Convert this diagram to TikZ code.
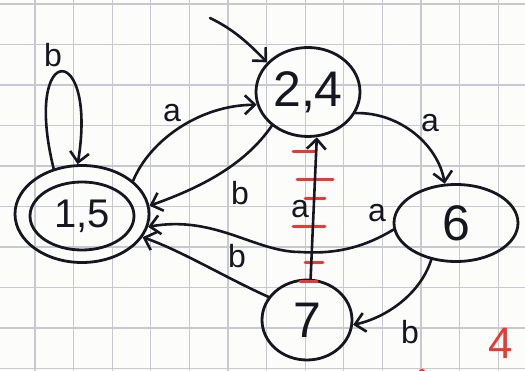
\documentclass[tikz,border=0pt]{standalone}
\usepackage{fontspec}
\setmainfont{Liberation Sans}
\usetikzlibrary{shapes.geometric,arrows.meta}
\definecolor{paper}{RGB}{252,252,250}
\definecolor{gridline}{RGB}{200,200,208}
\definecolor{ink}{RGB}{22,22,32}
\definecolor{redink}{RGB}{232,58,52}
\begin{document}
\begin{tikzpicture}[x=1pt,y=-1pt,
  state/.style={ellipse,draw=ink,line width=2.8pt,inner sep=0pt,text=ink,
    font=\fontsize{50}{50}\selectfont},
  edge/.style={draw=ink,line width=2.6pt,line cap=round,
    -{Straight Barb[length=10pt,width=19pt,line width=2.6pt]}},
  lbl/.style={text=ink,inner sep=0pt,font=\fontsize{32}{32}\selectfont},
  tick/.style={draw=redink,line width=3pt,line cap=round},
  gridrule/.style={draw=gridline,line width=1.2pt}]
\useasboundingbox (0,0) rectangle (525,371);
\clip (0,0) rectangle (525,371);
% squared paper
\fill[paper] (0,0) rectangle (525,371);
\foreach \gx in {35,73.6,...,520} \draw[gridrule] (\gx,0) -- (\gx,371);
\foreach \gy in {4,44.5,...,371} \draw[gridrule] (0,\gy) -- (525,\gy);

% states
\node[state,minimum width=134pt,minimum height=97pt] (n15) at (82,214) {};
\node[state,minimum width=104pt,minimum height=68pt,
  font=\fontsize{40}{40}\selectfont] (n15in) at (82,216) {1,5};
\node[state,minimum width=104pt,minimum height=89pt] (n24) at (308,92) {2,4};
\node[state,minimum width=124pt,minimum height=77pt] (n6) at (456,223) {6};
\node[state,minimum width=90pt,minimum height=80pt] (n7) at (307,320) {7};

% red strokes across the a-transition from 7 to 2,4
\draw[tick] (293,152) -- (315,152);
\draw[tick] (297,180) -- (333,180);
\draw[tick] (305,199) -- (325,199);
\draw[tick] (293,227) -- (325,227);
\draw[tick] (305,263) -- (323,263);
\draw[tick] (300,282) -- (317,282);

% start arrow
\coordinate (start) at (210,18);
\draw[edge] (start) .. controls (235,30) and (250,45) .. (n24.144);

% transitions
\draw[edge] (n15.122) .. controls (22,40) and (98,40) .. (n15.95);
\node[lbl] (lb0) at (53,55) {b};

\draw[edge] (n15.33) .. controls (150,140) and (200,105) .. (n24.194);
\node[lbl] (la1) at (172,113) {a};

\draw[edge] (n24.223) .. controls (245,165) and (200,188) .. (n15.7);
\node[lbl] (lb1) at (240,193) {b};

\draw[edge] (n6.186) .. controls (360,250) and (330,254) .. (300,252)
  .. controls (255,252) and (215,215) .. (n15.349);
\node[lbl] (la2) at (377,213) {a};

\draw[edge] (n7.149) .. controls (230,280) and (180,250) .. (n15.339);
\node[lbl] (lb2) at (237,256) {b};

\draw[edge] (n7.85) -- (n24.281);
\node[lbl] (la3) at (300,209) {a};

\draw[edge] (n24.336) .. controls (400,112) and (438,145) .. (n6.106);
\node[lbl] (la4) at (430,123) {a};

\draw[edge] (n6.236) .. controls (420,295) and (385,318) .. (n7.354);
\node[lbl] (lb3) at (410,332) {b};

% page number in red
\node[anchor=north west,inner sep=0pt,text=redink,
  font=\fontsize{44}{44}\selectfont] (pg) at (488,328) {4};
\fill[redink] (422,371) ellipse (3pt and 2pt);
\end{tikzpicture}
\end{document}
